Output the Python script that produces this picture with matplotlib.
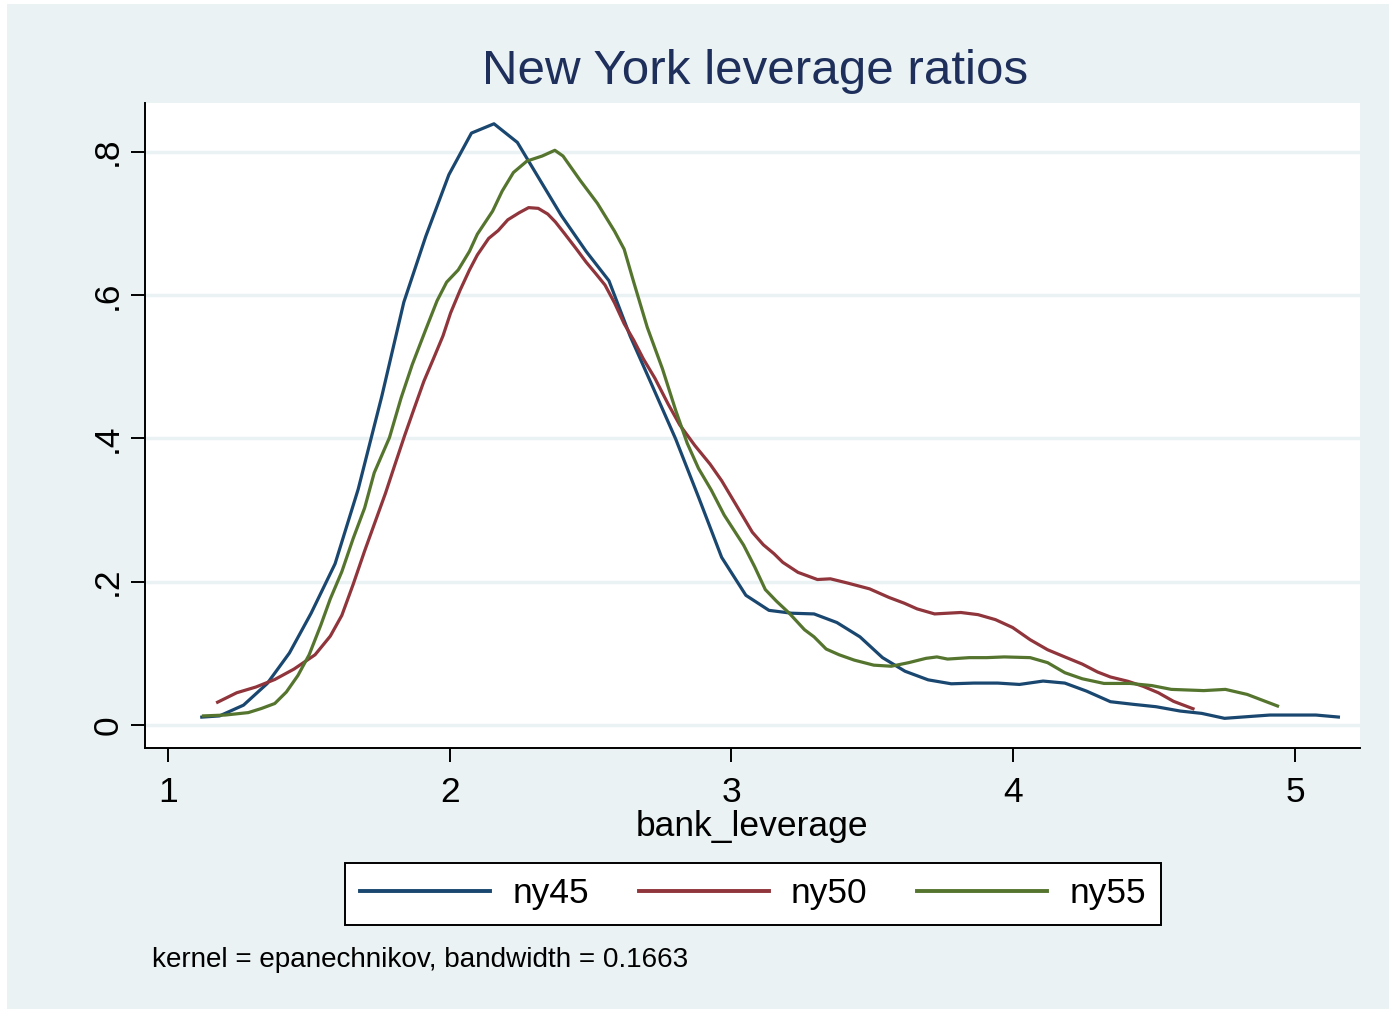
import matplotlib
matplotlib.use("Agg")
import matplotlib.pyplot as plt
from matplotlib.patches import Rectangle

plt.rcParams['font.family'] = ['Liberation Sans', 'DejaVu Sans']

# ---- data ----
ny45_x = [1.12, 1.183, 1.268, 1.352, 1.431, 1.508, 1.593, 1.675, 1.759, 1.837, 1.915, 1.997,
          2.077, 2.157, 2.240, 2.321, 2.396, 2.484, 2.565, 2.640, 2.718, 2.802, 2.883, 2.965,
          3.051, 3.133, 3.213, 3.293, 3.374, 3.456, 3.536, 3.616, 3.698, 3.780, 3.860, 3.945,
          4.022, 4.106, 4.183, 4.260, 4.345, 4.427, 4.507, 4.592, 4.669, 4.750, 4.830, 4.911,
          4.992, 5.074, 5.154]
ny45_y = [0.011, 0.0127, 0.0277, 0.0578, 0.1005, 0.156, 0.225, 0.329, 0.459, 0.590, 0.682, 0.768,
          0.826, 0.839, 0.813, 0.760, 0.711, 0.661, 0.620, 0.543, 0.474, 0.399, 0.318, 0.234,
          0.181, 0.160, 0.156, 0.155, 0.143, 0.123, 0.094, 0.075, 0.063, 0.0575, 0.0585, 0.0585,
          0.0566, 0.0613, 0.0585, 0.0473, 0.0325, 0.0288, 0.0255, 0.0195, 0.0162, 0.0093, 0.0116,
          0.0139, 0.0139, 0.0139, 0.0111]

ny50_x = [1.176, 1.244, 1.312, 1.379, 1.447, 1.522, 1.576, 1.617, 1.657, 1.698, 1.732, 1.772,
          1.806, 1.840, 1.874, 1.908, 1.942, 1.976, 2.003, 2.037, 2.070, 2.098, 2.138, 2.172,
          2.206, 2.247, 2.280, 2.314, 2.348, 2.375, 2.409, 2.450, 2.484, 2.518, 2.551, 2.585,
          2.619, 2.653, 2.687, 2.728, 2.775, 2.816, 2.870, 2.924, 2.965, 3.012, 3.074, 3.113,
          3.151, 3.182, 3.236, 3.305, 3.351, 3.413, 3.490, 3.559, 3.613, 3.659, 3.721, 3.767,
          3.814, 3.875, 3.937, 3.998, 4.060, 4.122, 4.183, 4.245, 4.299, 4.345, 4.407, 4.461,
          4.515, 4.569, 4.638]
ny50_y = [0.0318, 0.045, 0.053, 0.0635, 0.078, 0.098, 0.124, 0.153, 0.196, 0.243, 0.280, 0.3235,
          0.364, 0.404, 0.442, 0.4795, 0.511, 0.543, 0.575, 0.607, 0.635, 0.656, 0.679, 0.690,
          0.705, 0.715, 0.722, 0.721, 0.713, 0.702, 0.685, 0.664, 0.646, 0.630, 0.614, 0.589,
          0.560, 0.537, 0.511, 0.484, 0.448, 0.419, 0.390, 0.364, 0.341, 0.310, 0.269, 0.2515,
          0.239, 0.227, 0.213, 0.203, 0.204, 0.198, 0.190, 0.178, 0.170, 0.162, 0.155, 0.156,
          0.157, 0.154, 0.147, 0.136, 0.119, 0.105, 0.095, 0.085, 0.074, 0.067, 0.061, 0.054,
          0.045, 0.033, 0.0227]

ny55_x = [1.126, 1.203, 1.285, 1.332, 1.379, 1.420, 1.461, 1.501, 1.542, 1.576, 1.617, 1.657,
          1.698, 1.732, 1.786, 1.827, 1.867, 1.915, 1.955, 1.989, 2.030, 2.070, 2.098, 2.152,
          2.186, 2.226, 2.274, 2.328, 2.373, 2.402, 2.463, 2.524, 2.585, 2.619, 2.653, 2.701,
          2.755, 2.802, 2.843, 2.883, 2.928, 2.974, 3.043, 3.082, 3.120, 3.159, 3.205, 3.259,
          3.293, 3.336, 3.382, 3.436, 3.505, 3.567, 3.629, 3.690, 3.729, 3.767, 3.844, 3.906,
          3.968, 4.060, 4.122, 4.183, 4.245, 4.322, 4.414, 4.492, 4.561, 4.676, 4.753, 4.830,
          4.892, 4.938]
ny55_y = [0.0127, 0.0139, 0.0173, 0.0231, 0.030, 0.046, 0.069, 0.098, 0.139, 0.176, 0.214, 0.260,
          0.303, 0.352, 0.401, 0.456, 0.503, 0.552, 0.592, 0.618, 0.635, 0.661, 0.685, 0.717,
          0.745, 0.771, 0.787, 0.794, 0.802, 0.794, 0.760, 0.728, 0.689, 0.664, 0.618, 0.555,
          0.497, 0.439, 0.393, 0.358, 0.328, 0.293, 0.251, 0.221, 0.189, 0.173, 0.156, 0.133,
          0.123, 0.106, 0.098, 0.0905, 0.0835, 0.082, 0.087, 0.093, 0.095, 0.092, 0.094, 0.094,
          0.095, 0.094, 0.087, 0.073, 0.0645, 0.058, 0.058, 0.055, 0.0497, 0.048, 0.0497, 0.0427,
          0.0334, 0.0265]

x_ticks = [1, 2, 3, 4, 5]
y_ticks = [0, 0.2, 0.4, 0.6, 0.8]
y_tick_labels = ["0", ".2", ".4", ".6", ".8"]
series_names = ["ny45", "ny50", "ny55"]
series_colors = ["#1a476f", "#90353b", "#55752f"]

BG = "#eaf2f3"
W, H = 1389, 1009

fig = plt.figure(figsize=(W / 100, H / 100), dpi=100)
fig.patch.set_facecolor("white")
fig.patches.append(Rectangle((7 / W, 0), 1 - 7 / W, 1 - 4 / H, transform=fig.transFigure,
                             facecolor=BG, edgecolor="none", zorder=-10))

ax = fig.add_axes([145 / W, 1 - 748 / H, (1360 - 145) / W, (748 - 103) / H])
ax.set_facecolor("white")

for xs, ys, name, col in zip([ny45_x, ny50_x, ny55_x], [ny45_y, ny50_y, ny55_y],
                             series_names, series_colors):
    ax.plot(xs, ys, color=col, lw=2.3, label=name, solid_joinstyle="round", zorder=3)

ax.set_xlim(0.9184, 5.2307)
ax.set_ylim(-0.0321, 0.868)
ax.set_xticks(x_ticks)
ax.set_xticklabels([str(t) for t in x_ticks])
ax.set_yticks(y_ticks)
ax.set_yticklabels(y_tick_labels, rotation=90, va="center")
ax.tick_params(axis="both", direction="out", length=10, width=1.4, labelsize=25.5, colors="black")
ax.tick_params(axis="x", pad=10)
ax.tick_params(axis="y", pad=5)

ax.grid(axis="y", color=BG, lw=2.5, zorder=0)
ax.set_axisbelow(True)
for side in ["top", "right"]:
    ax.spines[side].set_visible(False)
for side in ["left", "bottom"]:
    ax.spines[side].set_linewidth(1.4)
    ax.spines[side].set_color("black")

ax.set_xlabel("bank_leverage", fontsize=25.5, labelpad=1)

fig.text(755 / W, 1 - 72 / H, "New York leverage ratios", fontsize=35.5, color="#1e2f5b",
         ha="center", va="center")

leg = fig.legend(loc="center", bbox_to_anchor=(753 / W, 1 - 894 / H), ncol=3, fontsize=25.5,
                 frameon=True, fancybox=False, edgecolor="black", framealpha=1,
                 handlelength=3.67, handletextpad=0.62, columnspacing=1.41, borderpad=0.42)
leg.get_frame().set_linewidth(1.4)
for line in leg.get_lines():
    line.set_linewidth(2.8)

fig.text(152 / W, 1 - 960 / H, "kernel = epanechnikov, bandwidth = 0.1663", fontsize=20.1,
         ha="left", va="center")

fig.savefig("out.png", dpi=100, facecolor=fig.get_facecolor())
